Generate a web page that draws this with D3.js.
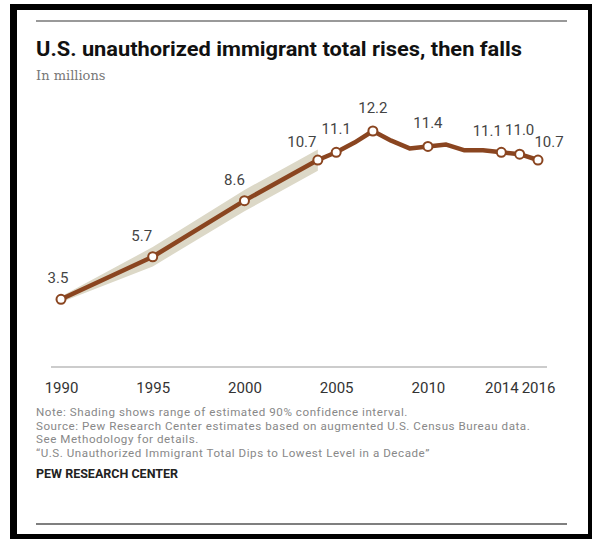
<!DOCTYPE html>
<html>
<head>
<meta charset="utf-8">
<script src="https://cdn.jsdelivr.net/npm/d3@7"></script>
<style>
  body { margin: 0; background: #fff; }
  svg { display: block; }
</style>
</head>
<body>
<div id="chart"></div>
<script>
// data
const years = [1990, 1995, 2000, 2004, 2005, 2006, 2007, 2008, 2009, 2010, 2011, 2012, 2013, 2014, 2015, 2016];
const values = [3.5, 5.7, 8.6, 10.7, 11.1, 11.6, 12.2, 11.7, 11.3, 11.4, 11.5, 11.2, 11.2, 11.1, 11.0, 10.7];
const markerYears = [1990, 1995, 2000, 2004, 2005, 2007, 2010, 2014, 2015, 2016];
// 90% confidence interval shading
const bandYears = [1990, 1995, 2000, 2004];
const bandLow = [3.35, 5.2, 8.05, 10.15];
const bandHigh = [3.65, 6.2, 9.15, 11.25];
const tickYears = [1990, 1995, 2000, 2005, 2010, 2014, 2016];

const title = "U.S. unauthorized immigrant total rises, then falls";
const subtitle = "In millions";
const notes = [
    "Note: Shading shows range of estimated 90% confidence interval.",
    "Source: Pew Research Center estimates based on augmented U.S. Census Bureau data.",
    "See Methodology for details.",
    "\u201cU.S. Unauthorized Immigrant Total Dips to Lowest Level in a Decade\u201d"
];
const credit = "PEW RESEARCH CENTER";

// label nudges (dx, dy from the marker)
const labelNudge = {
    1990: [-3, -16], 1995: [-11, -16], 2000: [-10, -16], 2004: [-16, -13],
    2005: [0, -18], 2007: [0, -18], 2010: [0, -18], 2014: [-14, -16],
    2015: [0, -19], 2016: [11, -13]
};

const width = 592;
const height = 539;
const lineColor = "#8a4520";

const svg = d3.select('#chart').append('svg')
    .attr('width', width)
    .attr('height', height);

// black frame around the card
svg.append('rect').attr('x', 10).attr('y', 4).attr('width', 582).attr('height', 535).attr('fill', '#000');
svg.append('rect').attr('x', 17).attr('y', 10).attr('width', 571).attr('height', 524).attr('fill', '#fff');

// top and bottom rules
svg.append('line').attr('x1', 36).attr('x2', 567).attr('y1', 21).attr('y2', 21)
    .attr('stroke', '#777').attr('stroke-width', 1.5);
svg.append('line').attr('x1', 36).attr('x2', 567).attr('y1', 524).attr('y2', 524)
    .attr('stroke', '#555').attr('stroke-width', 1.5);

svg.append('text')
    .attr('x', 36).attr('y', 56)
    .attr('font-family', 'Roboto, sans-serif')
    .attr('font-weight', 700)
    .attr('font-size', 20)
    .attr('fill', '#111')
    .attr('textLength', 486).attr('lengthAdjust', 'spacingAndGlyphs')
    .text(title);

svg.append('text')
    .attr('x', 36).attr('y', 80)
    .attr('font-family', '"DejaVu Serif", Georgia, serif')
    .attr('font-size', 13)
    .attr('fill', '#777')
    .text(subtitle);

const x = d3.scaleLinear().domain([1990, 2016]).range([61, 538]);
const y = d3.scaleLinear().domain([0, 12.2]).range([367, 131]);

// x axis: baseline drawn a bit wider than the data range
svg.append('line')
    .attr('x1', x(1990) - 10).attr('x2', x(2016) + 9)
    .attr('y1', y(0)).attr('y2', y(0))
    .attr('stroke', '#999').attr('stroke-width', 1.2);

const xAxis = svg.append('g')
    .attr('transform', `translate(0, ${y(0)})`)
    .call(d3.axisBottom(x).tickValues(tickYears).tickFormat(d3.format('d')).tickSize(0).tickPadding(15));
xAxis.select('.domain').remove();
xAxis.selectAll('text')
    .attr('font-family', 'Roboto, sans-serif')
    .attr('font-size', 15)
    .attr('fill', '#333');

// confidence band
const bandData = bandYears.map((yr, i) => ({ year: yr, lo: bandLow[i], hi: bandHigh[i] }));
const area = d3.area()
    .x(d => x(d.year))
    .y0(d => y(d.lo))
    .y1(d => y(d.hi));
svg.append('path')
    .datum(bandData)
    .attr('d', area)
    .attr('fill', '#dcd8c7');

// main line
const series = years.map((yr, i) => ({ year: yr, value: values[i] }));
const line = d3.line()
    .x(d => x(d.year))
    .y(d => y(d.value));
svg.append('path')
    .datum(series)
    .attr('d', line)
    .attr('fill', 'none')
    .attr('stroke', lineColor)
    .attr('stroke-width', 4.5)
    .attr('stroke-linejoin', 'round');

const marked = series.filter(d => markerYears.includes(d.year));

svg.selectAll('.dot')
    .data(marked)
    .enter().append('circle')
    .attr('class', 'dot')
    .attr('cx', d => x(d.year))
    .attr('cy', d => y(d.value))
    .attr('r', 4.5)
    .attr('fill', '#fff')
    .attr('stroke', lineColor)
    .attr('stroke-width', 2);

svg.selectAll('.val')
    .data(marked)
    .enter().append('text')
    .attr('class', 'val')
    .attr('x', d => x(d.year) + labelNudge[d.year][0])
    .attr('y', d => y(d.value) + labelNudge[d.year][1])
    .attr('text-anchor', 'middle')
    .attr('font-family', 'Roboto, sans-serif')
    .attr('font-size', 15)
    .attr('fill', '#444')
    .text(d => d3.format('.1f')(d.value));

// notes
svg.selectAll('.note')
    .data(notes)
    .enter().append('text')
    .attr('class', 'note')
    .attr('x', 36)
    .attr('y', (d, i) => 416 + i * 13.7)
    .attr('font-family', 'Roboto, sans-serif')
    .attr('font-size', 11.6)
    .attr('letter-spacing', 0.55)
    .attr('fill', '#888')
    .text(d => d);

svg.append('text')
    .attr('x', 36).attr('y', 478)
    .attr('font-family', 'Roboto, sans-serif')
    .attr('font-weight', 700)
    .attr('font-size', 12.5)
    .attr('fill', '#222')
    .text(credit);
</script>
</body>
</html>
